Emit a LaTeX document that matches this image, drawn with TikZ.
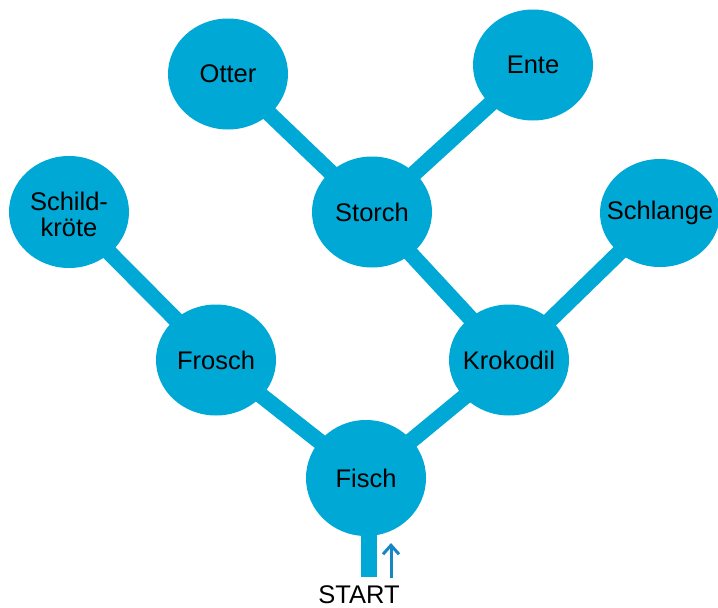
\documentclass[tikz,border=0pt]{standalone}
\usepackage{fontspec}
\setmainfont{Liberation Sans}
\usetikzlibrary{arrows.meta,shapes.geometric}
\pgfdeclarelayer{background}
\pgfsetlayers{background,main}
\definecolor{tblue}{RGB}{0,168,214}
\definecolor{ablue}{RGB}{22,134,196}
\newcommand\zwtext[1]{\makebox[0pt]{#1}}
\begin{document}
\begin{tikzpicture}[x=1pt,y=-1pt,
  animal/.style={ellipse, fill=tblue, inner sep=0pt, minimum width=120pt, minimum height=111pt,
    font=\fontsize{25.5}{26}\selectfont, text=black},
  branch/.style={tblue, line width=16pt}]
\useasboundingbox (0,0) rectangle (718,608);
\node[animal, minimum height=116pt] (fisch) at (366,478) {\zwtext{Fisch}};
\node[animal] (frosch) at (216,360) {\zwtext{Frosch}};
\node[animal] (krokodil) at (509,360) {\zwtext{Krokodil}};
\node[animal] (storch) at (372,212) {\zwtext{Storch}};
\node[animal, minimum height=112pt] (schild) at (69,212) {\zwtext{\raisebox{-12.5pt}[0pt][0pt]{\begin{tabular}{@{}c@{}}Schild-\\kröte\end{tabular}}}};
\node[animal, minimum height=108pt] (schlange) at (660,213) {\zwtext{Schlange}};
\node[animal] (otter) at (228,74) {\zwtext{Otter}};
\node[animal] (ente) at (533,65) {\zwtext{Ente}};
\node[font=\fontsize{25.5}{26}\selectfont, anchor=base, inner sep=0pt] (start) at (359,603) {START};
\coordinate (stemend) at (369,577);
\coordinate (abot) at (391,578);
\coordinate (atop) at (391,543);
\begin{pgfonlayer}{background}
\draw[branch] (fisch.center) -- (frosch.center);
\draw[branch] (fisch.center) -- (krokodil.center);
\draw[branch] (frosch.center) -- (schild.center);
\draw[branch] (krokodil.center) -- (storch.center);
\draw[branch] (krokodil.center) -- (schlange.center);
\draw[branch] (storch.center) -- (otter.center);
\draw[branch] (storch.center) -- (ente.center);
\draw[branch] (fisch.center -| stemend) -- (stemend);
\end{pgfonlayer}
\draw[ablue, line width=3pt, -{Straight Barb[length=9pt,width=16pt,line width=3pt]}] (abot) -- (atop);
\end{tikzpicture}
\end{document}
